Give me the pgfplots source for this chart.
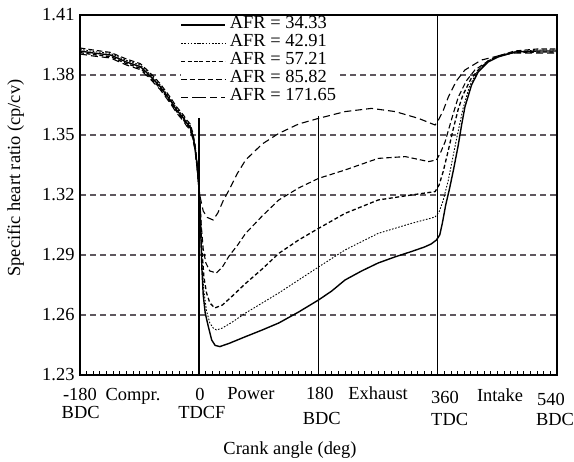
\documentclass[border=0pt]{standalone}
\usepackage{fontspec}
\setmainfont{Liberation Serif}
\usepackage{pgfplots}
\pgfplotsset{compat=1.18}
\definecolor{gridgray}{RGB}{95,88,95}

\begin{document}
\begin{tikzpicture}[font=\fontsize{18.5}{18.5}\selectfont]
\useasboundingbox (-80bp,-87bp) rectangle (494bp,375bp);
\begin{axis}[
    at={(0,0)}, anchor=south west,
    scale only axis,
    width=477bp, height=360bp,
    xmin=-180, xmax=540,
    ymin=1.23, ymax=1.41,
    axis line style={line width=1.2bp},
    xtick={-180,0,180,360,540},
    xticklabels={,,,,},
    minor x tick num=17,
    xtick pos=bottom,
    major tick length=4bp, minor tick length=4bp,
    every tick/.style={black, line width=0.8bp},
    ytick={1.23,1.26,1.29,1.32,1.35,1.38,1.41},
    ytick pos=left,
    ytick style={draw=none},
    /pgf/number format/fixed,
    /pgf/number format/precision=2,
    /pgf/number format/fixed zerofill,
    /pgf/number format/assume math mode=true,
    yticklabel style={xshift=-2bp},
    ymajorgrids,
    major grid style={gridgray, line width=1.2bp, dash pattern=on 6bp off 4bp},
    clip=false,
    legend cell align=left,
    legend image code/.code={\path (-18bp,0) -- (0bp,0); \draw[#1] (0bp,0bp) -- (26bp,0bp);},
    legend style={at={(axis cs:-28.6,1.4095)}, anchor=north west, draw=none, fill=white,
        inner sep=0pt, row sep=0pt,
        nodes={inner xsep=4bp, inner ysep=0pt, text height=12.5bp, text depth=5.5bp}},
]
% AFR = 34.33
\addplot[black, line width=1.4bp, line join=round] coordinates {
(-180,1.392)(-160,1.391)(-134,1.39)(-110,1.3865)(-89,1.3842)(-74,1.3795)(-59,1.3742)(-44,1.3675)(-34,1.3625)(-24,1.3585)(-19,1.356)(-14,1.3542)(-10,1.35)(-6.4,1.344)(-3,1.334)(-1,1.326)(0,1.322)
(1,1.315)(2,1.305)(3,1.293)(4,1.283)(6,1.27)(9,1.261)(13.7,1.2542)(18.8,1.2475)(24,1.2448)(31,1.2442)(45,1.2458)(70,1.2492)(95,1.2525)(120,1.256)(150,1.2615)(180,1.2675)(200,1.272)(220,1.2775)(245,1.282)(270,1.286)(295,1.289)(320,1.2917)(340,1.294)(350,1.2955)(358,1.2975)(363,1.3)(367,1.306)(372,1.315)(378,1.3235)(384,1.333)(391,1.345)(396,1.355)(401,1.364)(411,1.375)(421,1.3815)(436,1.3865)(451,1.389)(476,1.3915)(510,1.392)(540,1.392)
};
% AFR = 42.91
\addplot[black, line width=0.9bp, dash pattern=on 1.6bp off 1.6bp] coordinates {
(-180,1.3928)(-160,1.3918)(-134,1.3908)(-110,1.3873)(-89,1.385)(-74,1.3803)(-59,1.375)(-44,1.3683)(-34,1.3633)(-24,1.3593)(-19,1.3568)(-14,1.355)(-10,1.3508)(-6.4,1.3448)(-3,1.3348)(-1,1.3268)(0,1.3225)
(1,1.316)(2,1.305)(4,1.288)(7,1.272)(11,1.262)(16,1.256)(21,1.2535)(26,1.2525)(35,1.2535)(50,1.2565)(70,1.261)(95,1.266)(120,1.271)(150,1.2775)(180,1.284)(220,1.2925)(270,1.3008)(320,1.3058)(345,1.308)(356,1.309)(362,1.3115)(368,1.317)(376,1.3275)(388,1.3475)(398,1.363)(408,1.3745)(421,1.3825)(436,1.387)(451,1.3895)(476,1.3915)(510,1.3925)(540,1.3925)
};
% AFR = 57.21
\addplot[black, line width=1.3bp, dash pattern=on 4bp off 2.5bp] coordinates {
(-180,1.3912)(-160,1.3902)(-134,1.3892)(-110,1.3857)(-89,1.3834)(-74,1.3787)(-59,1.3734)(-44,1.3667)(-34,1.3617)(-24,1.3577)(-19,1.3552)(-14,1.3534)(-10,1.3492)(-6.4,1.3432)(-3,1.3332)(-1,1.3255)(0,1.3215)
(1,1.317)(2,1.308)(4,1.293)(7,1.279)(11,1.271)(16,1.266)(23.5,1.2635)(35,1.265)(50,1.2695)(70,1.2758)(95,1.283)(120,1.2908)(150,1.2975)(180,1.3033)(220,1.3108)(270,1.3175)(320,1.32)(356,1.3217)(362,1.325)(368,1.3315)(375,1.341)(383,1.3525)(391,1.363)(398,1.37)(410,1.378)(421,1.3825)(436,1.387)(451,1.3895)(476,1.3912)(510,1.3915)(540,1.3915)
};
% AFR = 85.82
\addplot[black, line width=1.1bp, dash pattern=on 5.5bp off 3bp] coordinates {
(-180,1.3935)(-160,1.3925)(-134,1.3913)(-110,1.388)(-89,1.3857)(-74,1.381)(-59,1.3757)(-44,1.369)(-34,1.364)(-24,1.36)(-19,1.3575)(-14,1.3557)(-10,1.3515)(-6.4,1.3455)(-3,1.3355)(-1,1.3272)(0,1.323)
(1,1.318)(3,1.305)(6,1.293)(10,1.286)(16,1.282)(26,1.281)(35,1.284)(45,1.2895)(58,1.295)(70,1.3008)(95,1.3095)(120,1.3175)(150,1.3235)(180,1.3283)(220,1.3325)(270,1.3383)(311,1.3392)(335,1.3375)(346,1.3367)(358,1.3375)(364,1.341)(371,1.3465)(381,1.358)(391,1.369)(403,1.377)(416,1.3825)(436,1.387)(451,1.3895)(476,1.392)(510,1.393)(540,1.393)
};
% AFR = 171.65
\addplot[black, line width=1.1bp, dash pattern=on 7bp off 4bp] coordinates {
(-180,1.3905)(-160,1.3895)(-134,1.3885)(-110,1.385)(-89,1.3827)(-74,1.378)(-59,1.3727)(-44,1.366)(-34,1.361)(-24,1.357)(-19,1.3545)(-14,1.3527)(-10,1.3485)(-6.4,1.3425)(-3,1.3325)(-1,1.325)(0,1.321)
(2,1.318)(6,1.312)(12,1.3088)(21,1.3075)(28,1.311)(36,1.317)(45,1.3225)(57,1.3305)(70,1.3375)(95,1.3455)(120,1.3508)(150,1.3555)(180,1.3583)(220,1.3617)(260,1.3633)(296,1.3617)(331,1.3583)(356,1.355)(361,1.3575)(368,1.362)(376,1.369)(388,1.377)(401,1.3825)(426,1.3875)(451,1.3895)(476,1.391)(510,1.391)(540,1.391)
};
\legend{AFR = 34.33, AFR = 42.91, AFR = 57.21, AFR = 85.82, AFR = 171.65}

% stroke markers
\addplot[black, line width=2bp, forget plot] coordinates {(0,1.3585) (0,1.23)};
\addplot[black, line width=1.5bp, forget plot] coordinates {(180,1.3595) (180,1.23)};
\addplot[black, line width=1bp, forget plot] coordinates {(360,1.41) (360,1.23)};

% x tick labels and phases
\node[anchor=base] at (axis cs:-180,1.2175) {-180};
\node[anchor=base] at (axis cs:-179,1.2085) {BDC};
\node[anchor=base] at (axis cs:-100,1.2175) {Compr.};
\node[anchor=base] at (axis cs:1,1.2175) {0};
\node[anchor=base] at (axis cs:4,1.2085) {TDCF};
\node[anchor=base] at (axis cs:78,1.218) {Power};
\node[anchor=base] at (axis cs:182,1.218) {180};
\node[anchor=base] at (axis cs:185,1.2055) {BDC};
\node[anchor=base] at (axis cs:270,1.218) {Exhaust};
\node[anchor=base] at (axis cs:371,1.216) {360};
\node[anchor=base] at (axis cs:378,1.205) {TDC};
\node[anchor=base] at (axis cs:454,1.217) {Intake};
\node[anchor=base] at (axis cs:531,1.215) {540};
\node[anchor=base] at (axis cs:537,1.205) {BDC};

\node[anchor=base] at (axis cs:137,1.1905) {Crank angle (deg)};
\node[rotate=90] at ([xshift=-64.5bp]axis cs:-180,1.3285) {Specific heart ratio (cp/cv)};
\end{axis}
\end{tikzpicture}
\end{document}
